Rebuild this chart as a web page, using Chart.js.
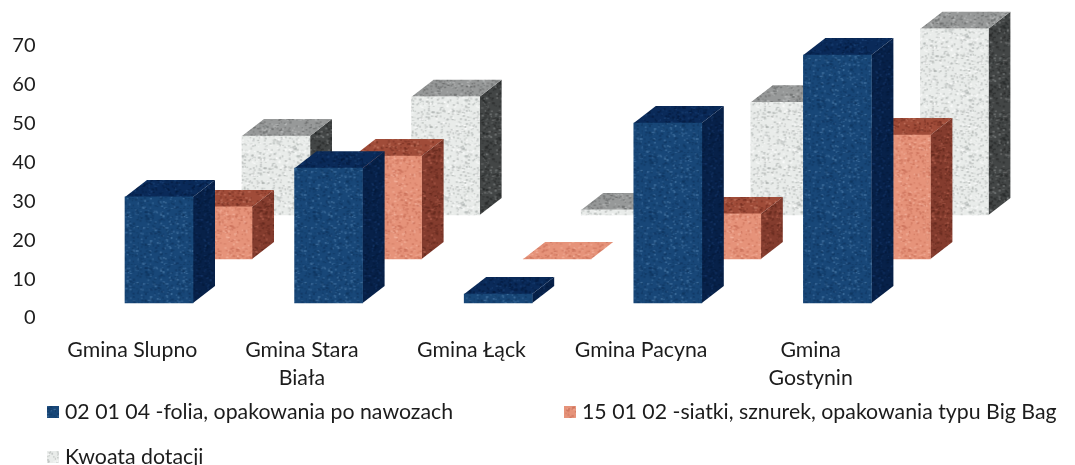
<!DOCTYPE html>
<html>
<head>
<meta charset="utf-8">
<style>
  html, body { margin: 0; background: #fff; }
  #wykres { display: block; }
</style>
<script src="https://cdn.jsdelivr.net/npm/chart.js@4"></script>
</head>
<body>
<canvas id="wykres" width="1075" height="465"></canvas>
<script>
const gminy = [["Gmina Slupno"], ["Gmina Stara", "Biała"], ["Gmina Łąck"], ["Gmina Pacyna"], ["Gmina", "Gostynin"]];
const nazwySerii = ["02 01 04 -folia, opakowania po nawozach", "15 01 02 -siatki, sznurek, opakowania typu Big Bag", "Kwoata dotacji"];
const folia = [27.3, 34.7, 2.3, 46.3, 63.8];
const siatki = [13.4, 26.5, 0, 11.6, 31.9];
const dotacja = [20.3, 30.4, 1.3, 29, 47.9];
const tickiY = [0, 10, 20, 30, 40, 50, 60, 70];

const przod = ["#184778", "#e6937a", "#e9ecea"];
const gora = ["#0a2a59", "#a04c39", "#979999"];
const bok = ["#072149", "#843c2e", "#434646"];
const plamki = [["#4a7aa8", "#103660"], ["#f5b5a0", "#c96f58"], ["#ffffff", "#aeb3b1"], ["#1d4478", "#051a3c"], ["#c77a65", "#732e21"], ["#c0c2c2", "#626464"], ["#17386a", "#051a3a"], ["#b3614f", "#5e261b"], ["#7d8080", "#262828"]];

// szum skanu na scianach slupkow
function szum(kolor, jasny, ciemny, ziarno) {
  const c = document.createElement("canvas");
  c.width = c.height = 56;
  const g = c.getContext("2d");
  g.fillStyle = kolor;
  g.fillRect(0, 0, 56, 56);
  let s = ziarno;
  const los = () => (s = (s * 16807) % 2147483647) / 2147483647;
  for (let i = 0; i < 420; i++) {
    g.fillStyle = i % 3 ? ciemny : jasny;
    g.globalAlpha = 0.35 + los() * 0.35;
    g.fillRect(los() * 56, los() * 56, 1 + los() * 1.6, 1 + los() * 1.2);
  }
  return g.createPattern(c, "repeat");
}
const wzorPrzod = przod.map((k, i) => szum(k, plamki[i][0], plamki[i][1], 11 + i));
const wzorGora = gora.map((k, i) => szum(k, plamki[i + 3][0], plamki[i + 3][1], 21 + i));
const wzorBok = bok.map((k, i) => szum(k, plamki[i + 6][0], plamki[i + 6][1], 31 + i));

const przesunX = [26.7, 85.7, 143.7];
const przesunY = [-15, -59, -103];
const glebX = 22, glebY = 17;

function wielokat(ctx, pkt, styl) {
  ctx.fillStyle = styl;
  ctx.beginPath();
  pkt.forEach((p, i) => i ? ctx.lineTo(p[0], p[1]) : ctx.moveTo(p[0], p[1]));
  ctx.closePath();
  ctx.fill();
}

const slupki3d = {
  id: "slupki3d",
  beforeDatasetDraw(chart, args) {
    const i = args.index, ctx = chart.ctx;
    ctx.save();
    ctx.translate(przesunX[i], przesunY[i]);
    chart.getDatasetMeta(i).data.forEach((el, n) => {
      const w = el.width / 2, l = el.x - w, r = el.x + w;
      const zero = chart.data.datasets[i].data[n] === 0;
      wielokat(ctx, [[r, el.y], [r + glebX, el.y - glebY], [r + glebX, el.base - glebY], [r, el.base]], wzorBok[i]);
      wielokat(ctx, [[l, el.y], [l + glebX, el.y - glebY], [r + glebX, el.y - glebY], [r, el.y]], zero ? wzorPrzod[i] : wzorGora[i]);
    });
  },
  afterDatasetDraw(chart) {
    chart.ctx.restore();
  }
};

const legenda = {
  id: "legenda",
  afterDraw(chart) {
    const ctx = chart.ctx;
    const miejsca = [[47, 412], [564, 412], [47, 457]];
    ctx.save();
    ctx.font = "21.3px Lato";
    ctx.textBaseline = "middle";
    nazwySerii.forEach((t, i) => {
      ctx.fillStyle = wzorPrzod[i];
      ctx.fillRect(miejsca[i][0], miejsca[i][1] - 6, 12, 12);
      ctx.fillStyle = "#1c1c1c";
      ctx.fillText(t, miejsca[i][0] + 18, miejsca[i][1]);
    });
    ctx.restore();
  }
};

new Chart(document.getElementById("wykres"), {
  type: "bar",
  data: {
    labels: gminy,
    datasets: [folia, siatki, dotacja].map((d, i) => ({
      label: nazwySerii[i],
      data: d,
      backgroundColor: wzorPrzod[i],
      borderWidth: 0,
      barThickness: 68,
      clip: false
    }))
  },
  options: {
    responsive: false,
    animation: false,
    layout: { padding: { top: 46, right: 179.5 } },
    plugins: { legend: { display: false }, tooltip: { enabled: false } },
    scales: {
      x: {
        stacked: false,
        grid: { display: false, drawTicks: false },
        border: { display: false },
        afterFit: s => { s.height = 147; },
        ticks: {
          autoSkip: false,
          maxRotation: 0,
          padding: 18,
          color: "#1c1c1c",
          font: { family: "Lato", size: 21.3, lineHeight: 1.32 }
        }
      },
      y: {
        min: 0,
        max: 70,
        grid: { display: false, drawTicks: false },
        border: { display: false },
        afterFit: s => { s.width = 47.5; },
        afterBuildTicks: s => { s.ticks = tickiY.map(v => ({ value: v })); },
        ticks: {
          padding: 12,
          color: "#1c1c1c",
          font: { family: "Lato", size: 20 }
        }
      }
    },
    datasets: { bar: { grouped: false } }
  },
  plugins: [slupki3d, legenda]
});
</script>
</body>
</html>
